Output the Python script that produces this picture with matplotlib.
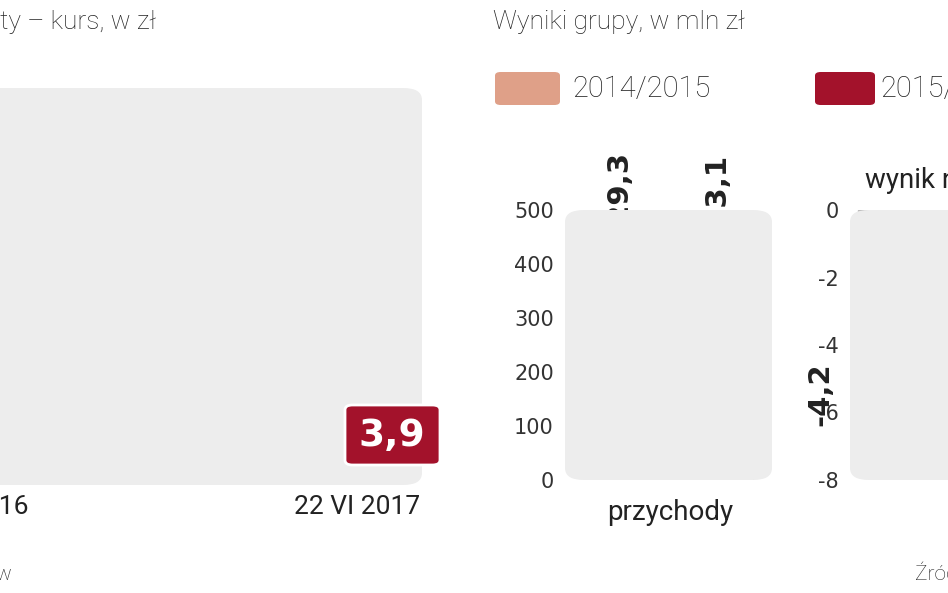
import matplotlib
matplotlib.use("Agg")
import matplotlib.pyplot as plt
from matplotlib.patches import FancyBboxPatch

W, H = 948, 593
SALMON = "#DFA088"
RED = "#A3122B"
BG = "#EDEDED"
TXT = "#222222"

# price series (zl)
price_x = [0, 10, 20, 30, 45, 60, 75, 90, 100, 110, 120, 125, 135, 150, 165, 175, 185, 195,
           205, 215, 225, 235, 245, 255, 265, 275, 290, 305, 315, 325, 335, 345, 355, 362,
           372, 385, 395, 405, 415, 420]
price = [6.22, 6.27, 5.87, 5.72, 5.46, 5.41, 5.31, 5.21, 5.16, 5.06, 4.86, 4.40, 4.25, 4.30,
         4.20, 4.56, 4.96, 5.11, 5.06, 4.76, 4.66, 4.71, 4.56, 4.40, 4.76, 4.86, 5.26, 5.57,
         6.07, 5.82, 5.92, 5.62, 5.16, 4.81, 5.06, 4.91, 4.61, 4.40, 4.20, 3.98]
last_price = "3,9"

revenue = [429.3, 423.1]
revenue_labels = ["429,3", "423,1"]
result = [-4.2]
result_labels = ["-4,2"]

fig = plt.figure(figsize=(W / 100, H / 100), dpi=100)


def px_axes(x0, y0, x1, y1):
    return fig.add_axes([x0 / W, 1 - y1 / H, (x1 - x0) / W, (y1 - y0) / H])


def bg_box(x0, y0, x1, y1):
    fig.patches.append(FancyBboxPatch((x0 / W, 1 - y1 / H), (x1 - x0) / W, (y1 - y0) / H,
                                      boxstyle="round,pad=0,rounding_size=0.02",
                                      transform=fig.transFigure, fc=BG, ec="none", zorder=0))


def ftext(x, y, s, **kw):
    kw.setdefault("color", TXT)
    fig.text(x / W, 1 - y / H, s, **kw)


# left: price line
bg_box(-20, 88, 422, 485)
ax = px_axes(0, 88, 420, 485)
ax.set_facecolor("none")
ax.plot(price_x, price, color=SALMON, lw=5, solid_joinstyle="round")
ax.plot(price_x[-1], price[-1], "s", ms=5, mfc="white", mec="#555555", mew=1)
for g in [4, 5, 6]:
    ax.axhline(g, color="#CFCFCF", lw=1, zorder=0)
ax.set_xlim(0, 425)
ax.set_ylim(4 - 100 / 99, 4 + 297 / 99)
ax.axis("off")

fig.patches.append(FancyBboxPatch((345 / W, 1 - 465 / H), 95 / W, 60 / H,
                                  boxstyle="round,pad=0,rounding_size=0.008",
                                  transform=fig.transFigure, fc=RED, ec="white", lw=2))
ftext(392, 436, last_price, color="white", fontsize=27, fontweight="bold",
      ha="center", va="center", family="Liberation Sans Narrow")
ftext(0, 22, "ty – kurs, w zł", fontsize=19, va="center", family="Roboto", fontweight="light")
ftext(-30, 507, "2016", fontsize=19, va="center", family="Roboto")
ftext(420, 507, "22 VI 2017", fontsize=19, va="center", ha="right", family="Roboto")
ftext(-5, 575, "w", fontsize=15, va="center", family="Roboto", fontweight="light")

# right header + legend
ftext(493, 22, "Wyniki grupy, w mln zł", fontsize=19, va="center", family="Roboto", fontweight="light")
fig.patches.append(FancyBboxPatch((495 / W, 1 - 105 / H), 65 / W, 33 / H,
                                  boxstyle="round,pad=0,rounding_size=0.006",
                                  transform=fig.transFigure, fc=SALMON, ec="none"))
ftext(572, 89, "2014/2015", fontsize=21, va="center", family="Roboto", fontweight="light")
fig.patches.append(FancyBboxPatch((815 / W, 1 - 105 / H), 60 / W, 33 / H,
                                  boxstyle="round,pad=0,rounding_size=0.006",
                                  transform=fig.transFigure, fc=RED, ec="none"))
ftext(880, 89, "2015/2016", fontsize=21, va="center", family="Roboto", fontweight="light")

# revenue bars
bg_box(565, 210, 772, 480)
ax2 = px_axes(565, 210, 772, 480)
ax2.set_facecolor("none")
ax2.bar([0, 1], revenue, width=0.72, color=[SALMON, RED], ec="#BBBBBB", lw=1)
ax2.set_xlim(-0.55, 1.55)
ax2.set_ylim(0, 500)
ax2.set_yticks([0, 100, 200, 300, 400, 500])
ax2.tick_params(axis="y", length=0, labelsize=15, pad=8, labelcolor="#333333")
ax2.set_xticks([])
for s in ax2.spines.values():
    s.set_visible(False)
for i, (v, lab) in enumerate(zip(revenue, revenue_labels)):
    ax2.text(i, v + 10, lab, rotation=90, ha="center", va="bottom", fontsize=21,
             fontweight="bold", color=TXT, family="Liberation Sans Narrow")
ftext(670, 512, "przychody", fontsize=20, ha="center", va="center", family="Roboto")

# result bars
bg_box(850, 210, 990, 480)
ax3 = px_axes(850, 210, 1000, 480)
ax3.set_facecolor("none")
ax3.bar([0, 1], [result[0], 0], width=0.5, color=[SALMON, RED], ec="#BBBBBB", lw=1)
ax3.set_xlim(-0.35, 1.65)
ax3.set_ylim(-8, 0)
ax3.set_yticks([0, -2, -4, -6, -8])
ax3.set_yticklabels(["0", "-2", "-4", "-6", "-8"])
ax3.tick_params(axis="y", length=0, labelsize=15, pad=8, labelcolor="#333333")
ax3.set_xticks([])
for s in ax3.spines.values():
    s.set_visible(False)
ax3.text(-0.75, result[0] - 0.3, result_labels[0], rotation=90, ha="center", va="top",
         fontsize=21, fontweight="bold", color=TXT, family="Liberation Sans Narrow")
ftext(865, 180, "wynik netto", fontsize=20, va="center", family="Roboto")
ftext(915, 575, "Źródło", fontsize=15, va="center", family="Roboto", fontweight="light")

fig.savefig("out.png", dpi=100)
